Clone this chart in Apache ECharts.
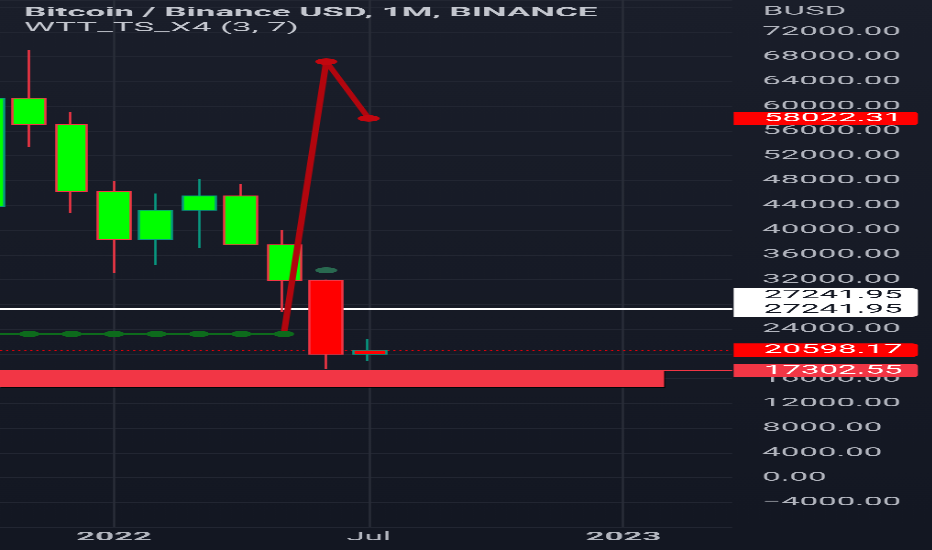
<!DOCTYPE html>
<html><head><meta charset="utf-8">
<script src="https://cdn.jsdelivr.net/npm/echarts@6/dist/echarts.min.js"></script>
<style>
html,body{margin:0;padding:0;background:#131722;overflow:hidden;width:932px;height:550px;}
#c{position:absolute;left:0;top:0;height:550px;transform-origin:0 0;}
</style></head><body><div id="c"></div>
<script>
// ---- data (month index: 0 = Jan 2022) ----
const monthIdx = [-3, -2, -1, 0, 1, 2, 3, 4, 5, 6];
const opens  = [43800, 61300, 57000, 46200, 38500, 43200, 45500, 37600, 31800, 19950];
const closes = [61300, 57000, 46200, 38500, 43200, 45500, 37600, 31800, 19950, 20598.17];
const lows   = [43300, 53400, 42700, 33000, 34300, 37150, 37580, 26700, 17600, 18800];
const highs  = [66900, 69100, 59100, 47900, 45900, 48200, 47400, 40000, 31990, 22400];

const redIdx   = [4, 5, 6];
const redVals  = [23210, 67200, 58022.31];
const greenIdx  = [-3, -2, -1, 0, 1, 2, 3, 4];
const greenVals = [23210, 23210, 23210, 23210, 23210, 23210, 23210, 23210];
const dotIdx  = [5];
const dotVals = [33500];

const whiteLevel = 27241.95;
const lastPrice = 20598.17;
const indicatorLast = 58022.31;
const zoneTop = 17302.55;
const zoneBottom = 14600;
const zoneEnd = 12.96;

const xTickValues = [0, 6, 12];
const xTickLabels = {0: '2022', 6: 'Jul', 12: '2023'};
const xTickBold = {0: true, 6: false, 12: true};
const titleText = 'Bitcoin / Binance USD, 1M, BINANCE';
const indText = 'WTT_TS_X4 (3, 7)';
const unitText = 'BUSD';

// ---- layout (chart drawn narrow, then stretched horizontally) ----
const S = 2.75;
const W = 932 / S;
const el = document.getElementById('c');
el.style.width = W + 'px';
el.style.transform = 'scaleX(' + S + ')';

const plotRight = 732 / S;
const monthPx = 42.43 / S;
const zeroX = 114 / S;
const xMin = -zeroX / monthPx;
const xMax = (plotRight - zeroX) / monthPx;

const candleData = monthIdx.map((m, i) => {
  const item = {value: [m, opens[i], closes[i], lows[i], highs[i]]};
  if (m === 5) item.itemStyle = {color0: '#ff0000'};
  if (m === 6) item.itemStyle = {color: '#ff0000'};
  return item;
});

const font = 'Roboto, "Noto Sans", sans-serif';
const boxLabel = (text, bg, fg, extra) => Object.assign({
  show: true, position: 'end', distance: 0.5, formatter: text,
  backgroundColor: bg, color: fg, fontFamily: font, fontSize: 12,
  lineHeight: 13.4, padding: [0, 0, 0, 11], width: 56, align: 'left',
  borderRadius: [0, 2, 2, 0]
}, extra || {});

const chart = echarts.init(el, null, {devicePixelRatio: 3});
chart.setOption({
  animation: false,
  backgroundColor: new echarts.graphic.LinearGradient(0, 0, 0, 1, [
    {offset: 0, color: '#1a1e2a'}, {offset: 1, color: '#131722'}]),
  title: [
    {text: titleText, left: 24 / S, top: 6.5, padding: 0,
     textStyle: {fontFamily: font, fontSize: 12.7, fontWeight: 'bold', color: '#c3c6ce'}},
    {text: indText, left: 24 / S, top: 21.5, padding: 0,
     textStyle: {fontFamily: font, fontSize: 12.7, fontWeight: 'normal', color: '#c3c6ce'}},
    {text: unitText, left: 763 / S, top: 5.5, padding: 0,
     textStyle: {fontFamily: font, fontSize: 12, fontWeight: 'normal', color: '#b2b5be'}}
  ],
  grid: {left: 0, right: W - plotRight, top: 0, bottom: 22.8, containLabel: false},
  xAxis: {
    type: 'value', min: xMin, max: xMax,
    axisLine: {show: false}, axisTick: {show: false},
    splitLine: {show: false},
    axisLabel: {
      customValues: xTickValues,
      margin: 4, fontFamily: font, fontSize: 12, color: '#b2b5be',
      formatter: v => {
        const k = Math.round(v);
        if (!xTickLabels[k]) return '';
        return xTickBold[k] ? '{b|' + xTickLabels[k] + '}' : xTickLabels[k];
      },
      rich: {b: {fontFamily: font, fontSize: 12, fontWeight: 'bold', color: '#b2b5be'}}
    }
  },
  yAxis: {
    type: 'value', position: 'right', min: -8000, max: 77150, interval: 4000,
    axisLine: {show: false}, axisTick: {show: false},
    splitLine: {show: true, lineStyle: {color: '#222632', width: 1}},
    axisLabel: {
      margin: 30 / S, fontFamily: font, fontSize: 12, color: '#b2b5be', align: 'left',
      formatter: v => (v <= -8000 || v >= 76000) ? '' :
        (v < 0 ? '\u2212' + Math.abs(v).toFixed(2) : v.toFixed(2))
    }
  },
  series: [
    {
      type: 'candlestick', z: 2, barWidth: 34 / S,
      encode: {x: 0, y: [1, 2, 3, 4]},
      itemStyle: {color: '#00ff00', color0: '#00ff00', borderColor: '#089981',
                  borderColor0: '#f23645', borderWidth: 0.85},
      data: candleData,
      markArea: {
        z: 1, silent: true,
        itemStyle: {color: '#f23645', borderWidth: 0,
                    shadowColor: 'rgba(0,0,0,0.8)', shadowOffsetX: 0.4, shadowOffsetY: 0.6, shadowBlur: 0},
        data: [[{xAxis: xMin, yAxis: zoneTop}, {xAxis: zoneEnd, yAxis: zoneBottom}]]
      },
      markLine: {
        z: 1, silent: true, symbol: ['none', 'none'],
        data: [
          {yAxis: whiteLevel, lineStyle: {color: '#ffffff', width: 1.6, type: 'solid'},
           label: boxLabel(whiteLevel.toFixed(2) + '\n' + whiteLevel.toFixed(2), '#ffffff', '#131722',
                           {lineHeight: 14.2, offset: [0, -6.5]})},
          {yAxis: lastPrice, lineStyle: {color: '#e0000a', width: 1, type: [0.8, 1.4]},
           label: boxLabel(lastPrice.toFixed(2), '#ff0000', '#ffffff')},
          {yAxis: zoneTop, lineStyle: {color: '#f23645', width: 1, type: 'solid'},
           label: boxLabel(zoneTop.toFixed(2), '#f23645', '#ffffff')},
          {yAxis: indicatorLast, lineStyle: {color: 'rgba(0,0,0,0)', width: 0},
           label: boxLabel(indicatorLast.toFixed(2), '#ff0000', '#ffffff')}
        ]
      }
    },
    {
      // vertical grid lines at the labelled months
      type: 'line', z: 0, silent: true, data: [],
      markLine: {
        z: 0, silent: true, symbol: ['none', 'none'], label: {show: false},
        lineStyle: {color: '#2a2e39', width: 0.8, type: 'solid'},
        data: xTickValues.map(v => ({xAxis: v}))
      }
    },
    {
      type: 'line', z: 3, silent: true,
      data: redIdx.map((m, i) => i === 0 ? {value: [m, redVals[i]], symbol: 'none'} : [m, redVals[i]]),
      symbol: 'circle', symbolSize: [8, 6.5], showSymbol: true,
      lineStyle: {color: '#b2060e', width: 2.4},
      itemStyle: {color: '#c2070f', borderWidth: 0}
    },
    {
      type: 'line', z: 4, silent: true,
      data: greenIdx.map((m, i) => [m, greenVals[i]]),
      symbol: 'circle', symbolSize: [7.5, 6.5], showSymbol: true,
      lineStyle: {color: '#0d6b1c', width: 2},
      itemStyle: {color: '#0d6b1c', borderWidth: 0}
    },
    {
      type: 'scatter', z: 4, silent: true,
      data: dotIdx.map((m, i) => [m, dotVals[i]]),
      symbol: 'circle', symbolSize: [8, 6],
      itemStyle: {color: '#2e7d5b'}
    }
  ]
});
</script></body></html>
